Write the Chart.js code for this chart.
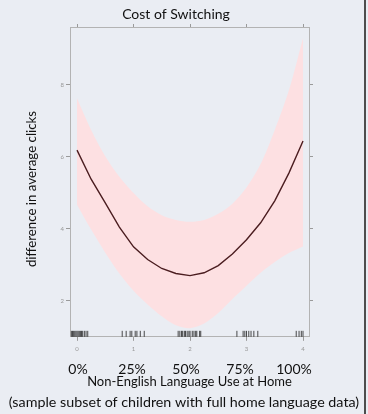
<!DOCTYPE html>
<html>
<head>
<meta charset="utf-8">
<script src="https://cdn.jsdelivr.net/npm/chart.js@4.4.1/dist/chart.umd.min.js"></script>
<style>
  html, body { margin: 0; padding: 0; background: #eaedf3; }
  #wrap { position: relative; width: 368px; height: 414px; }
  #edge { position: absolute; left: 364px; top: 0; width: 2px; height: 414px; background: #4d4d4d; }
</style>
</head>
<body>
<div id="wrap">
  <canvas id="costChart" width="368" height="414"></canvas>
  <div id="edge"></div>
</div>
<script>
// language use (0 = none .. 4 = all), model fit and 95% band
const langUse   = [0, 0.25, 0.5, 0.75, 1, 1.25, 1.5, 1.75, 2, 2.25, 2.5, 2.75, 3, 3.25, 3.5, 3.75, 4];
const fitClicks = [6.19, 5.38, 4.72, 4.05, 3.5, 3.15, 2.9, 2.76, 2.7, 2.78, 2.98, 3.3, 3.7, 4.17, 4.78, 5.55, 6.44];
const upperBand = [7.63, 6.75, 6.02, 5.45, 5.0, 4.63, 4.38, 4.25, 4.2, 4.25, 4.42, 4.7, 5.15, 5.8, 6.75, 7.85, 9.3];
const lowerBand = [4.67, 3.98, 3.34, 2.76, 2.28, 1.9, 1.57, 1.32, 1.24, 1.37, 1.66, 2.05, 2.42, 2.78, 3.08, 3.33, 3.51];

// rug of observed children
const rugValues = [
  -0.1, -0.08, -0.06, -0.04, -0.02, 0, 0.02, 0.04, 0.06, 0.08, 0.1, 0.13, 0.16, 0.19,
  0.8, 0.87, 0.94, 0.97, 1.03, 1.06, 1.12, 1.19,
  1.79, 1.82, 1.85, 1.87, 1.9, 1.92, 1.95, 1.98, 2.0, 2.04, 2.07, 2.1, 2.12, 2.17, 2.19,
  2.83, 2.94, 2.97, 3.0, 3.04, 3.08, 3.13, 3.2,
  3.88, 3.93, 3.97, 4.0
];

const xTicks = [0, 1, 2, 3, 4];
const yTicks = [2, 4, 6, 8];
const pctLabels = ['0%', '25%', '50%', '75%', '100%'];

const FONT = 'Lato, "Open Sans", sans-serif';
const toPts = (ys) => langUse.map((x, i) => ({ x: x, y: ys[i] }));
const setTicks = (list) => (axis) => { axis.ticks = list.map(v => ({ value: v })); };

//Rug marks along the bottom of the plot
const rugPlugin = {
  id: 'rug',
  afterDatasetsDraw(chart) {
    const { ctx, chartArea, scales } = chart;
    ctx.save();
    ctx.strokeStyle = '#1e1e1e';
    ctx.lineWidth = 0.8;
    rugValues.forEach(v => {
      const px = scales.x.getPixelForValue(v);
      ctx.beginPath();
      ctx.moveTo(px, chartArea.bottom - 6);
      ctx.lineTo(px, chartArea.bottom);
      ctx.stroke();
    });
    ctx.restore();
  }
};

//Slide title and y label, placed like the original text boxes
const textPlugin = {
  id: 'slideText',
  afterDraw(chart) {
    const ctx = chart.ctx;
    ctx.save();
    ctx.fillStyle = '#111';
    ctx.textAlign = 'center';
    ctx.textBaseline = 'middle';
    ctx.font = '14px ' + FONT;
    ctx.fillText('Cost of Switching', 176, 14);
    ctx.translate(32, 189);
    ctx.rotate(-Math.PI / 2);
    ctx.font = '13.3px ' + FONT;
    ctx.fillText('difference in average clicks', 0, 0);
    ctx.restore();
  }
};

const config = {
  type: 'line',
  data: {
    datasets: [{
      label: 'upper',
      data: toPts(upperBand),
      borderWidth: 0,
      pointRadius: 0,
      tension: 0.3,
      fill: '+1',
      backgroundColor: '#fde0e2',
      order: 2
    }, {
      label: 'lower',
      data: toPts(lowerBand),
      borderWidth: 0,
      pointRadius: 0,
      tension: 0.3,
      fill: false,
      order: 2
    }, {
      label: 'fit',
      data: toPts(fitClicks),
      borderColor: '#4b1d20',
      borderWidth: 1.4,
      pointRadius: 0,
      tension: 0,
      fill: false,
      order: 0
    }]
  },
  options: {
    responsive: false,
    devicePixelRatio: 1,
    animation: false,
    layout: { padding: 0 },
    plugins: {
      legend: { display: false },
      tooltip: { enabled: false },
      title: { display: false },
      subtitle: {
        display: true,
        position: 'bottom',
        text: '(sample subset of children with full home language data)',
        color: '#111',
        font: { family: FONT, size: 14.3, weight: 'normal' },
        padding: { top: 4, bottom: 3 }
      }
    },
    scales: {
      x: {
        type: 'linear',
        position: 'bottom',
        min: -0.124,
        max: 4.106,
        afterBuildTicks: setTicks(xTicks),
        afterFit: (s) => { s.height = 17; },
        grid: { drawOnChartArea: false, tickLength: 4, color: '#9a9a9a' },
        border: { color: '#b3b3b3' },
        ticks: { color: '#999', font: { family: FONT, size: 6 }, padding: 5, maxRotation: 0 }
      },
      x2: {
        type: 'linear',
        position: 'bottom',
        min: -8 / 54,
        max: 231 / 54,
        afterBuildTicks: setTicks(xTicks),
        afterFit: (s) => { s.height = 36; },
        grid: { display: false, drawTicks: false },
        border: { display: false },
        ticks: {
          color: '#111',
          font: { family: FONT, size: 14 },
          padding: 7,
          maxRotation: 0,
          callback: (v) => pctLabels[v]
        },
        title: {
          display: true,
          text: 'Non-English Language Use at Home',
          color: '#111',
          font: { family: FONT, size: 13 },
          padding: { top: 0, bottom: 0 }
        }
      },
      xTop: {
        type: 'linear',
        position: 'top',
        min: -0.124,
        max: 4.106,
        afterBuildTicks: setTicks(xTicks),
        afterFit: (s) => { s.height = 27; },
        grid: { drawOnChartArea: false, tickLength: 3, color: '#9a9a9a' },
        border: { color: '#b3b3b3' },
        ticks: { display: false }
      },
      y: {
        type: 'linear',
        position: 'left',
        min: 1.0,
        max: 9.61,
        afterBuildTicks: setTicks(yTicks),
        afterFit: (s) => { s.width = 70; },
        grid: { drawOnChartArea: false, tickLength: 4, color: '#9a9a9a' },
        border: { color: '#b3b3b3' },
        ticks: { color: '#999', font: { family: FONT, size: 6 }, padding: 2 }
      },
      y2: {
        type: 'linear',
        position: 'right',
        min: 1.0,
        max: 9.61,
        afterBuildTicks: setTicks(yTicks),
        afterFit: (s) => { s.width = 59; },
        grid: { drawOnChartArea: false, tickLength: 4, color: '#9a9a9a' },
        border: { color: '#b3b3b3' },
        ticks: { display: false }
      }
    }
  },
  plugins: [rugPlugin, textPlugin]
};

const costChart = new Chart(document.getElementById('costChart'), config);
</script>
</body>
</html>
